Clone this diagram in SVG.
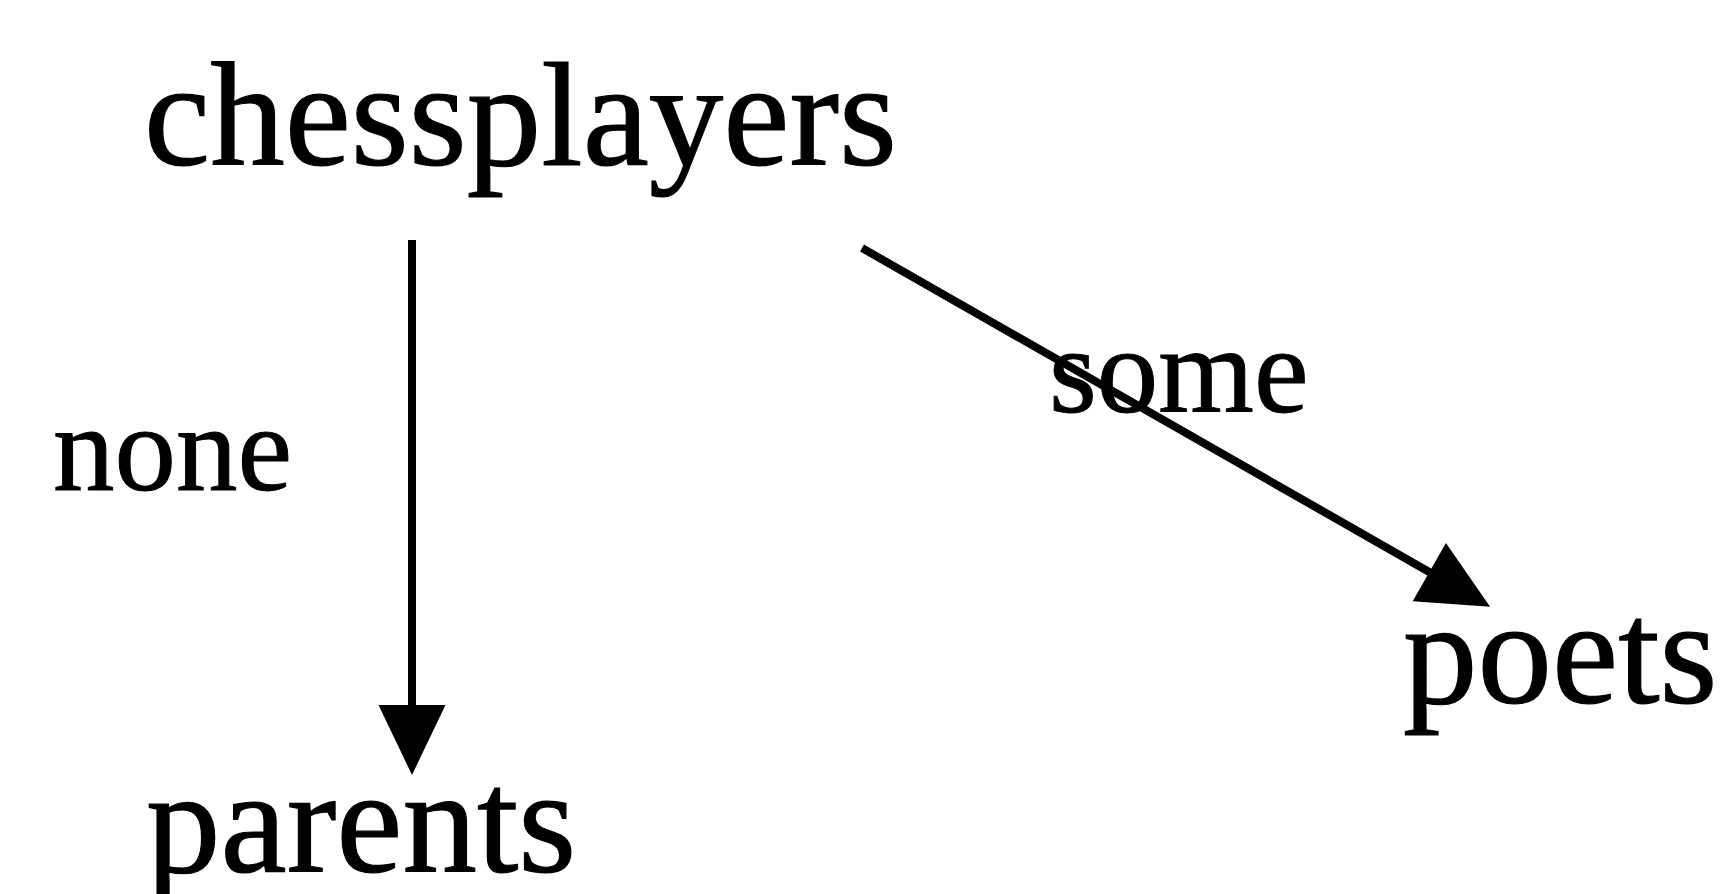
<svg xmlns="http://www.w3.org/2000/svg" width="1729" height="894" viewBox="0 0 1729 894">
<style>
.node{font-family:"Liberation Serif","Times New Roman",serif;font-size:149px;fill:#000;stroke:#000;stroke-width:1.2}
.lbl{font-family:"Liberation Serif","Times New Roman",serif;font-size:123px;fill:#000;stroke:#000;stroke-width:1}
.edge{stroke:#000;stroke-width:8;fill:none;marker-end:url(#ah)}
</style>
<defs>
<marker id="ah" markerUnits="userSpaceOnUse" markerWidth="72" markerHeight="68" refX="10" refY="33.5" orient="auto" overflow="visible">
<path d="M0,0 L70,33.5 L0,67 z" fill="#000"/>
</marker>
</defs>
<rect width="1729" height="894" fill="#fff"/>
<g id="edges">
<line class="edge" x1="412" y1="240" x2="412" y2="715"/>
<line class="edge" x1="862" y1="248" x2="1438" y2="577"/>
</g>
<g id="label-none"><text class="lbl" x="53" y="490">none</text></g>
<g id="label-some"><text class="lbl" x="1049" y="412">some</text></g>
<g id="node-chessplayers"><text class="node" x="144" y="165">chessplayers</text></g>
<g id="node-parents"><text class="node" x="146" y="872">parents</text></g>
<g id="node-poets"><text class="node" x="1403" y="703">poets</text></g>
</svg>
